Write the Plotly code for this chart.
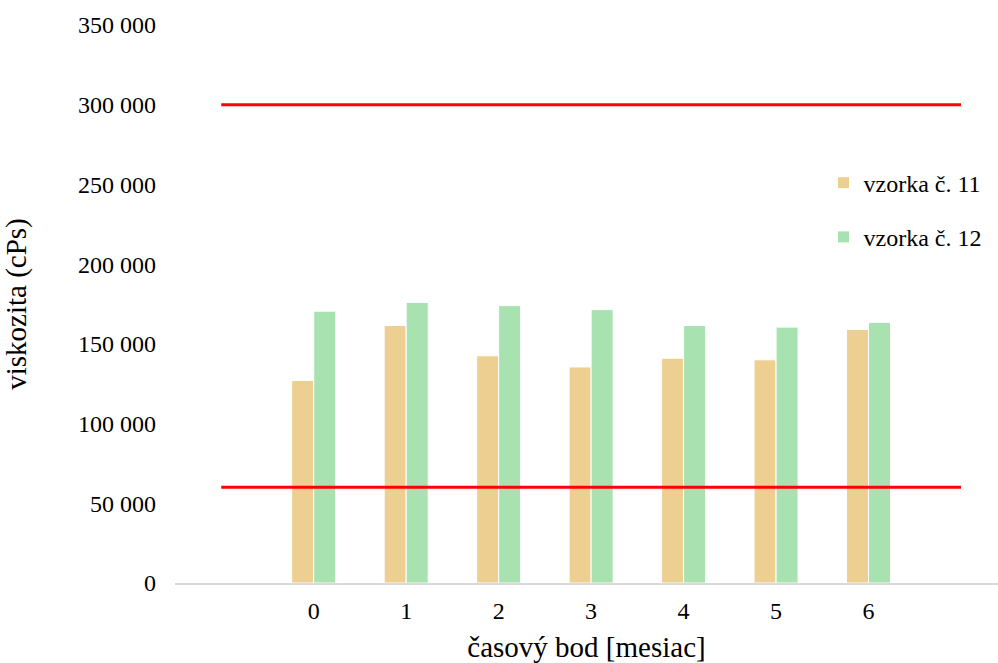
import plotly.graph_objects as go

months = [0, 1, 2, 3, 4, 5, 6]
vzorka_11 = [127000, 161500, 142500, 135500, 141000, 140000, 159000]
vzorka_12 = [170500, 176000, 174000, 171500, 161500, 160500, 163500]

limit_x = [-1, 7]
limit_low = [60000, 60000]
limit_high = [300000, 300000]

font = "Liberation Serif"

fig = go.Figure()
fig.add_trace(go.Bar(x=months, y=vzorka_11, name="vzorka č. 11", legendgroup="a",
                     marker=dict(color="#EDCF92", line=dict(color="white", width=1))))
fig.add_trace(go.Bar(x=months, y=vzorka_12, name="vzorka č. 12", legendgroup="b",
                     marker=dict(color="#A8E2B0", line=dict(color="white", width=1))))
for lim in (limit_high, limit_low):
    fig.add_trace(go.Scatter(x=limit_x, y=lim, mode="lines", showlegend=False,
                             line=dict(color="#FF0000", width=3), hoverinfo="skip"))

fig.update_layout(
    width=998, height=663,
    margin=dict(l=175, r=0, t=25, b=80),
    paper_bgcolor="white", plot_bgcolor="white",
    font=dict(family=font, size=24, color="black"),
    barmode="group", bargap=0.524, bargroupgap=0,
    legend=dict(x=0.788, y=0.757, xanchor="left", yanchor="top",
                traceorder="grouped", tracegroupgap=20, itemwidth=30,
                font=dict(size=24), bgcolor="rgba(0,0,0,0)"),
    showlegend=True,
)
fig.update_xaxes(
    range=[-1.5, 7.4], tickmode="array", tickvals=months,
    ticks="", showgrid=False, zeroline=False,
    showline=True, linecolor="#D9D9D9", linewidth=2,
    ticklabelstandoff=5,
    title=dict(text="časový bod [mesiac]", standoff=20),
)
fig.update_yaxes(
    range=[0, 350000], tickvals=[0, 50000, 100000, 150000, 200000, 250000, 300000, 350000],
    ticktext=["0", "50 000", "100 000", "150 000", "200 000", "250 000", "300 000", "350 000"],
    ticks="", showgrid=False, zeroline=False, showline=False,
    ticklabelstandoff=18,
    title=dict(text="viskozita (cPs)", standoff=46),
)

fig.write_html("out.html", config={"displayModeBar": False},
               post_script="document.body.style.margin='0';")
